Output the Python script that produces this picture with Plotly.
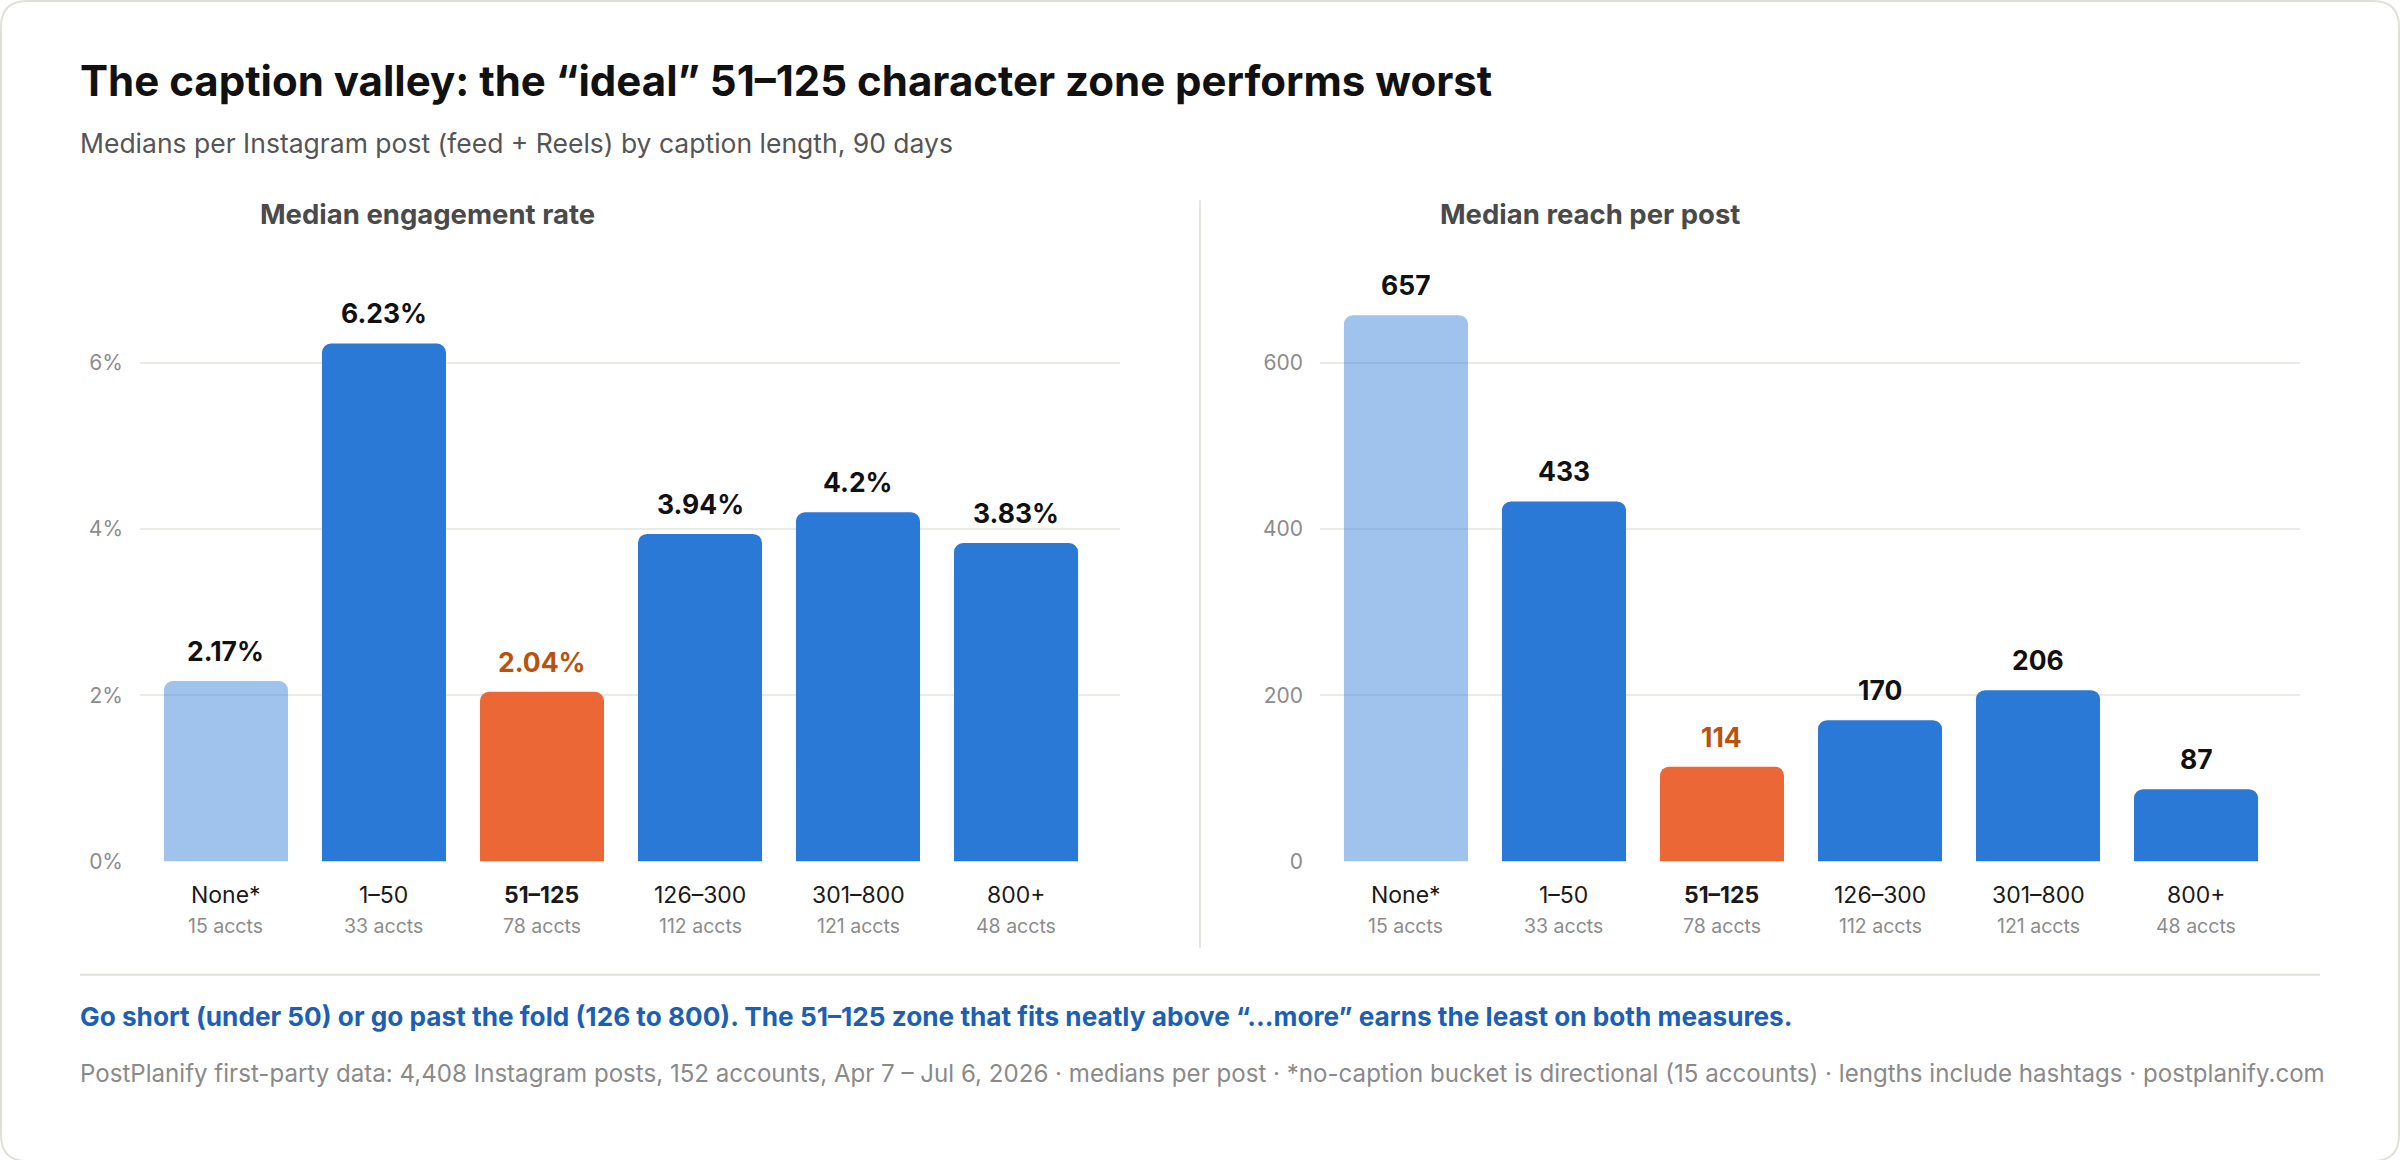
import plotly.graph_objects as go

# The photographed page is squeezed vertically by ~1160/1174, so the figure is
# laid out at 1174 px tall with reference pixel rows scaled up accordingly.
W, H = 2400, 1174
REF_H = 1160

# ---------------- data ----------------
categories = ["None*", "1–50", "51–125", "126–300", "301–800", "800+"]
accounts = ["15 accts", "33 accts", "78 accts", "112 accts", "121 accts", "48 accts"]
engagement_rate = [2.17, 6.23, 2.04, 3.94, 4.20, 3.83]
engagement_labels = ["2.17%", "6.23%", "2.04%", "3.94%", "4.2%", "3.83%"]
reach = [657, 433, 114, 170, 206, 87]
reach_labels = ["657", "433", "114", "170", "206", "87"]
eng_ticks = [0, 2, 4, 6]
eng_ticktext = ["0%", "2%", "4%", "6%"]
reach_ticks = [0, 200, 400, 600]
highlight = "51–125"
directional = "None*"

title = "The caption valley: the “ideal” 51–125 character zone performs worst"
subtitle = "Medians per Instagram post (feed + Reels) by caption length, 90 days"
panel_titles = ["Median engagement rate", "Median reach per post"]
note = "Go short (under 50) or go past the fold (126 to 800). The 51–125 zone that fits neatly above “...more” earns the least on both measures."
source = ("PostPlanify first-party data: 4,408 Instagram posts, 152 accounts, Apr 7 – Jul 6, 2026 · "
          "medians per post · *no-caption bucket is directional (15 accounts) · lengths include hashtags · postplanify.com")

# ---------------- style ----------------
FONT = "Inter"
BLUE = "#2a79d6"
ORANGE = "#eb6836"
ORANGE_TXT = "#b8520e"
GRID = "#ebebe6"
BORDER = "#e0e0da"


def px(x):
    return x / W


def py(y):
    return 1 - y / REF_H


def bar_colors(cats):
    return [ORANGE if c == highlight else BLUE for c in cats]


def bar_opacity(cats):
    return [0.45 if c == directional else 1.0 for c in cats]


fig = go.Figure()

plot_top, plot_bot = 260, 860          # reference pixel rows
left_dom = (140, 1120)
right_dom = (1320, 2300)
xrange_ = [-0.544, 5.658]
eng_range = [0, (plot_bot - plot_top) / 83.0]
reach_range = [0, (plot_bot - plot_top) / 0.83]

for vals, xa, ya in [(engagement_rate, "x", "y"), (reach, "x2", "y2")]:
    fig.add_trace(go.Bar(
        x=categories, y=vals, xaxis=xa, yaxis=ya,
        marker=dict(color=bar_colors(categories), opacity=bar_opacity(categories), line=dict(width=0)),
        width=0.785, hoverinfo="skip", showlegend=False,
    ))

ydom = [py(plot_bot), py(plot_top)]
axis_common = dict(type="category", range=xrange_, showticklabels=False, showgrid=False,
                   zeroline=False, showline=False, ticks="", fixedrange=True,
                   categoryorder="array", categoryarray=categories)
yaxis_common = dict(showgrid=True, gridcolor=GRID, gridwidth=1.5, zeroline=False, showline=False,
                    ticks="", tickfont=dict(family=FONT, size=21, color="#8c8c8c"),
                    ticklabelstandoff=16, fixedrange=True)

fig.update_layout(
    width=W, height=H,
    margin=dict(l=0, r=0, t=0, b=0),
    paper_bgcolor="white", plot_bgcolor="rgba(0,0,0,0)",
    barcornerradius=9,
    xaxis=dict(domain=[px(left_dom[0]), px(left_dom[1])], anchor="y", **axis_common),
    xaxis2=dict(domain=[px(right_dom[0]), px(right_dom[1])], anchor="y2", **axis_common),
    yaxis=dict(domain=ydom, anchor="x", range=eng_range, tickvals=eng_ticks, ticktext=eng_ticktext, **yaxis_common),
    yaxis2=dict(domain=ydom, anchor="x2", range=reach_range, tickvals=reach_ticks, **yaxis_common),
    font=dict(family=FONT),
)

ann = []
ann.append(dict(text=f"<b>{title}</b>", x=px(78), y=py(80), xref="paper", yref="paper",
                xanchor="left", yanchor="middle", showarrow=False,
                font=dict(family=FONT, size=42, color="#111111")))
ann.append(dict(text=subtitle, x=px(78), y=py(143), xref="paper", yref="paper",
                xanchor="left", yanchor="middle", showarrow=False,
                font=dict(family=FONT, size=26.5, color="#555555")))
for t, xl in zip(panel_titles, [258, 1438]):
    ann.append(dict(text=f"<b>{t}</b>", x=px(xl), y=py(214), xref="paper", yref="paper",
                    xanchor="left", yanchor="middle", showarrow=False,
                    font=dict(family=FONT, size=27.5, color="#4a4a4a")))

for vals, labels, xa, ya in [(engagement_rate, engagement_labels, "x", "y"),
                              (reach, reach_labels, "x2", "y2")]:
    for c, v, lab, acc in zip(categories, vals, labels, accounts):
        hl = c == highlight
        ann.append(dict(text=f"<b>{lab}</b>", x=c, y=v, xref=xa, yref=ya,
                        xanchor="center", yanchor="bottom", yshift=12, showarrow=False,
                        font=dict(family=FONT, size=26.5, color=ORANGE_TXT if hl else "#111111")))
        ann.append(dict(text=f"<b>{c}</b>" if hl else c, x=c, y=py(893), xref=xa, yref="paper",
                        xanchor="center", yanchor="middle", showarrow=False,
                        font=dict(family=FONT, size=23, color="#1a1a1a")))
        ann.append(dict(text=acc, x=c, y=py(924), xref=xa, yref="paper",
                        xanchor="center", yanchor="middle", showarrow=False,
                        font=dict(family=FONT, size=19.5, color="#8c8c8c")))

ann.append(dict(text=f"<b>{note}</b>", x=px(78), y=py(1015), xref="paper", yref="paper",
                xanchor="left", yanchor="middle", showarrow=False,
                font=dict(family=FONT, size=26.2, color="#1c5fb3")))
ann.append(dict(text=source, x=px(78), y=py(1072), xref="paper", yref="paper",
                xanchor="left", yanchor="middle", showarrow=False,
                font=dict(family=FONT, size=24.1, color="#8a8a8a")))
fig.update_layout(annotations=ann)

r = 26
x0, x1, y0, y1 = 1, W - 1, 1, REF_H - 1
path = (f"M {px(x0 + r)},{py(y0)} L {px(x1 - r)},{py(y0)} Q {px(x1)},{py(y0)} {px(x1)},{py(y0 + r)} "
        f"L {px(x1)},{py(y1 - r)} Q {px(x1)},{py(y1)} {px(x1 - r)},{py(y1)} "
        f"L {px(x0 + r)},{py(y1)} Q {px(x0)},{py(y1)} {px(x0)},{py(y1 - r)} "
        f"L {px(x0)},{py(y0 + r)} Q {px(x0)},{py(y0)} {px(x0 + r)},{py(y0)} Z")
shapes = [
    dict(type="path", path=path, xref="paper", yref="paper", line=dict(color=BORDER, width=2), layer="below"),
    dict(type="line", x0=px(1200), x1=px(1200), y0=py(200), y1=py(946), xref="paper", yref="paper",
         line=dict(color="#e4e4de", width=2)),
    dict(type="line", x0=px(80), x1=px(2320), y0=py(973), y1=py(973), xref="paper", yref="paper",
         line=dict(color=BORDER, width=2)),
]
fig.update_layout(shapes=shapes)

fig.write_html("out.html")
